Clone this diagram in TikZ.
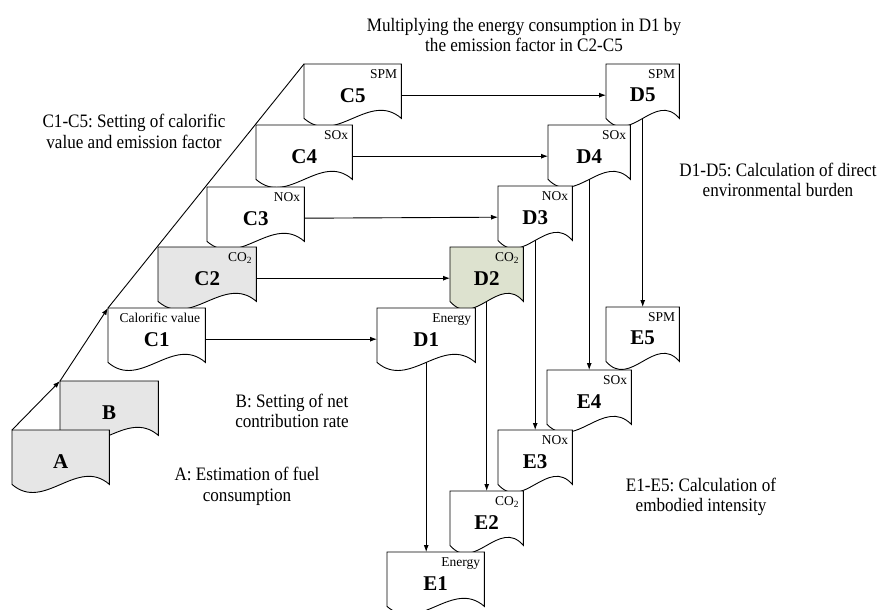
\documentclass[tikz,border=0pt]{standalone}
\usepackage{fontspec}
\setmainfont{Liberation Serif}
\newfontfamily\notefont{Liberation Serif}[FakeStretch=0.9]
\frenchspacing
\usetikzlibrary{calc,arrows.meta,backgrounds}
\definecolor{DocGray}{HTML}{E6E6E6}
\definecolor{DocSage}{HTML}{DDE2CF}
\tikzset{
    doc/.style = {rectangle, anchor=north west, inner sep=0pt,
        minimum height=62pt,
        font=\bfseries\fontsize{21}{24}\selectfont},
    tag/.style = {anchor=north east, inner sep=0pt,
        font=\fontsize{13.5}{15}\selectfont},
    note/.style = {align=center, inner sep=0pt,
        font=\notefont\fontsize{19}{20.5}\selectfont},
    outline/.style = {draw=black, line width=0.9pt},
    arrow/.style = {draw, line width=0.9pt, -{Latex[length=7pt,width=5pt]}},
    link/.style = {draw, line width=0.9pt}
}
% document outline with wavy bottom, behind the node text
\newcommand{\docpath}[2]{%
    \filldraw[outline, fill=#2] (#1.north west) -- ([yshift=8pt]#1.south west)
        .. controls ($(#1.south west)!0.33!(#1.south east)+(0pt,-20pt)$)
        and ($(#1.south west)!0.67!(#1.south east)+(0pt,36pt)$)
        .. ([yshift=8pt]#1.south east) -- (#1.north east) -- cycle;
}
\begin{document}
\begin{tikzpicture}[x=1pt,y=-1pt]
    \useasboundingbox (0,0) rectangle (878,610);
    % A, B
    \node[doc, minimum width=98pt] (B) at (60,381) {B};
    \node[doc, minimum width=97pt] (A) at (12,430) {A};
    % C1-C5
    \node[doc, minimum width=97pt] (C1) at (108,308) {C1};
    \node[doc, minimum width=98pt] (C2) at (158,247) {C2};
    \node[doc, minimum width=97pt] (C3) at (207,187) {C3};
    \node[doc, minimum width=96pt] (C4) at (256,125) {C4};
    \node[doc, minimum width=97pt] (C5) at (304,64) {C5};
    % D1-D5
    \node[doc, minimum width=98pt] (D1) at (377,308) {D1};
    \node[doc, minimum width=73pt] (D2) at (450,247) {D2};
    \node[doc, minimum width=74pt] (D3) at (498,186) {D3};
    \node[doc, minimum width=82pt] (D4) at (548,125) {D4};
    \node[doc, minimum width=73pt] (D5) at (606,64) {D5};
    % E1-E5
    \node[doc, minimum width=97pt] (E1) at (387,552) {E1};
    \node[doc, minimum width=73pt] (E2) at (450,491) {E2};
    \node[doc, minimum width=74pt] (E3) at (498,430) {E3};
    \node[doc, minimum width=84pt] (E4) at (547,370) {E4};
    \node[doc, minimum width=73pt] (E5) at (606,307) {E5};

    \begin{scope}[on background layer]
        \docpath{B}{DocGray}
        \docpath{A}{DocGray}
        \docpath{C5}{white}
        \docpath{C4}{white}
        \docpath{C3}{white}
        \docpath{C2}{DocGray}
        \docpath{C1}{white}
        \docpath{D5}{white}
        \docpath{D4}{white}
        \docpath{D3}{white}
        \docpath{D2}{DocSage}
        \docpath{D1}{white}
        \docpath{E5}{white}
        \docpath{E4}{white}
        \docpath{E3}{white}
        \docpath{E2}{white}
        \docpath{E1}{white}
    \end{scope}

    % small tags
    \node[tag] (C1t) at ([xshift=-5pt,yshift=-5pt]C1.north east) {Calorific value};
    \node[tag] (C2t) at ([xshift=-4pt,yshift=-5pt]C2.north east) {CO\textsubscript{2}};
    \node[tag] (C3t) at ([xshift=-4pt,yshift=-5pt]C3.north east) {NOx};
    \node[tag] (C4t) at ([xshift=-4pt,yshift=-5pt]C4.north east) {SOx};
    \node[tag] (C5t) at ([xshift=-4pt,yshift=-5pt]C5.north east) {SPM};
    \node[tag] (D1t) at ([xshift=-4pt,yshift=-5pt]D1.north east) {Energy};
    \node[tag] (D2t) at ([xshift=-4pt,yshift=-5pt]D2.north east) {CO\textsubscript{2}};
    \node[tag] (D3t) at ([xshift=-4pt,yshift=-5pt]D3.north east) {NOx};
    \node[tag] (D4t) at ([xshift=-4pt,yshift=-5pt]D4.north east) {SOx};
    \node[tag] (D5t) at ([xshift=-4pt,yshift=-5pt]D5.north east) {SPM};
    \node[tag] (E1t) at ([xshift=-4pt,yshift=-5pt]E1.north east) {Energy};
    \node[tag] (E2t) at ([xshift=-4pt,yshift=-5pt]E2.north east) {CO\textsubscript{2}};
    \node[tag] (E3t) at ([xshift=-4pt,yshift=-5pt]E3.north east) {NOx};
    \node[tag] (E4t) at ([xshift=-4pt,yshift=-5pt]E4.north east) {SOx};
    \node[tag] (E5t) at ([xshift=-4pt,yshift=-5pt]E5.north east) {SPM};

    % notes
    \node[note] (mult) at (524,35) {Multiplying the energy consumption in D1 by\\the emission factor in C2-C5};
    \node[note] (cset) at (134,131.5) {C1-C5: Setting of calorific\\value and emission factor};
    \node[note] (dcalc) at (778,180) {D1-D5: Calculation of direct\\environmental burden};
    \node[note] (bset) at (292,411) {B: Setting of net\\contribution rate};
    \node[note] (aest) at (247,486.5) {A: Estimation of fuel\\consumption};
    \node[note] (ecalc) at (701,497) {E1-E5: Calculation of\\embodied intensity};

    % connectors
    \draw[arrow] (A.north west) -- (B.north west);
    \draw[arrow] (B.north west) -- (C1.north west);
    \draw[link] (C1.north west) -- (C5.north west);
    \foreach \i in {1,...,5} {
        \draw[arrow] (C\i.east) -- (D\i.west);
        \draw[arrow] ([yshift=8pt]D\i.south) -- (D\i.south |- E\i.north);
    }
\end{tikzpicture}
\end{document}
